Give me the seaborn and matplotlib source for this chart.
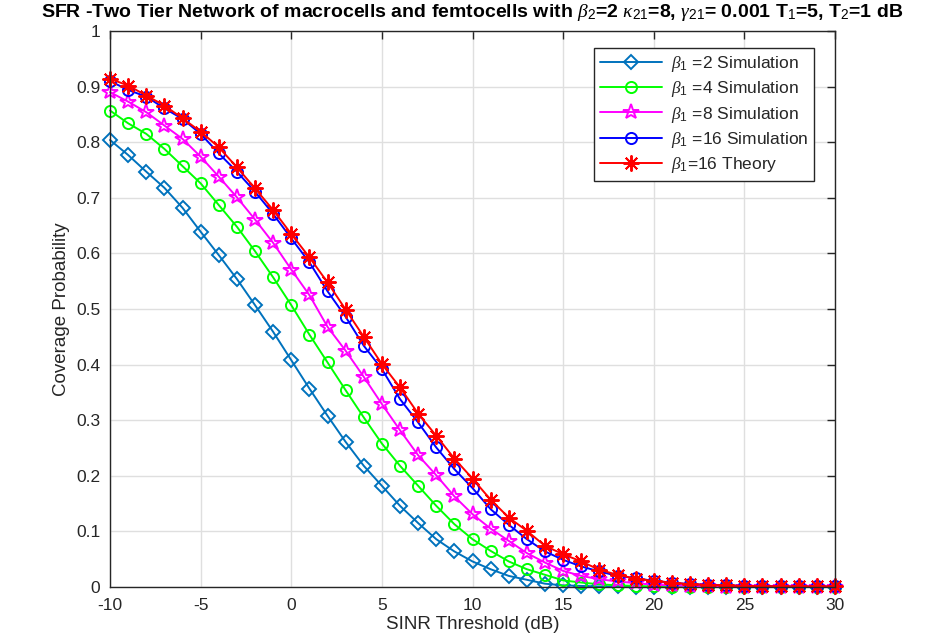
import numpy as np
import pandas as pd
import seaborn as sns
import matplotlib
matplotlib.use("Agg")
import matplotlib.pyplot as plt

# ---------------- data ----------------
sinr_db = list(range(-10, 31))

beta1_2_sim = [0.804, 0.777, 0.747, 0.718, 0.682, 0.639, 0.597, 0.554, 0.507, 0.459,
               0.408, 0.357, 0.308, 0.261, 0.218, 0.182, 0.146, 0.115, 0.086, 0.064,
               0.046, 0.032, 0.020, 0.013, 0.006, 0.003, 0.002, 0.001, 0.001, 0.0,
               0.0, 0.0, 0.0, 0.0, 0.0, 0.0, 0.0, 0.0, 0.0, 0.0, 0.0]
beta1_4_sim = [0.857, 0.834, 0.815, 0.788, 0.757, 0.726, 0.687, 0.648, 0.604, 0.557,
               0.507, 0.454, 0.404, 0.354, 0.305, 0.258, 0.218, 0.182, 0.146, 0.113,
               0.086, 0.065, 0.046, 0.032, 0.022, 0.012, 0.008, 0.005, 0.003, 0.002,
               0.001, 0.0, 0.0, 0.0, 0.0, 0.0, 0.0, 0.0, 0.0, 0.0, 0.0]
beta1_8_sim = [0.890, 0.873, 0.854, 0.830, 0.806, 0.774, 0.738, 0.701, 0.661, 0.619,
               0.571, 0.525, 0.468, 0.425, 0.378, 0.329, 0.282, 0.237, 0.201, 0.163,
               0.131, 0.105, 0.083, 0.061, 0.044, 0.029, 0.020, 0.014, 0.010, 0.007,
               0.004, 0.003, 0.002, 0.001, 0.0, 0.0, 0.0, 0.0, 0.0, 0.0, 0.0]
beta1_16_sim = [0.910, 0.894, 0.882, 0.861, 0.842, 0.815, 0.780, 0.747, 0.711, 0.671,
                0.627, 0.584, 0.532, 0.486, 0.434, 0.392, 0.338, 0.296, 0.251, 0.212,
                0.178, 0.140, 0.112, 0.086, 0.064, 0.049, 0.037, 0.028, 0.020, 0.016,
                0.011, 0.008, 0.005, 0.004, 0.003, 0.002, 0.002, 0.001, 0.001, 0.001, 0.001]
beta1_16_theory = [0.914, 0.902, 0.884, 0.866, 0.843, 0.819, 0.791, 0.755, 0.717, 0.678,
                   0.635, 0.593, 0.548, 0.499, 0.450, 0.401, 0.359, 0.312, 0.272, 0.231,
                   0.195, 0.157, 0.125, 0.101, 0.074, 0.059, 0.046, 0.031, 0.022, 0.015,
                   0.011, 0.008, 0.005, 0.004, 0.003, 0.002, 0.002, 0.001, 0.001, 0.001, 0.001]

labels = [r"$\beta_1$ =2 Simulation", r"$\beta_1$ =4 Simulation", r"$\beta_1$ =8 Simulation",
          r"$\beta_1$ =16 Simulation", r"$\beta_1$=16 Theory"]
x_ticks = [-10, -5, 0, 5, 10, 15, 20, 25, 30]
y_ticks = [0, 0.1, 0.2, 0.3, 0.4, 0.5, 0.6, 0.7, 0.8, 0.9, 1]
y_ticklabels = ["0", "0.1", "0.2", "0.3", "0.4", "0.5", "0.6", "0.7", "0.8", "0.9", "1"]

# ---------------- style ----------------
sns.set_theme(style="white")
plt.rcParams["font.family"] = ["Liberation Sans", "DejaVu Sans"]
plt.rcParams["mathtext.fontset"] = "custom"
plt.rcParams["mathtext.rm"] = "Liberation Sans"
plt.rcParams["mathtext.it"] = "Liberation Serif:italic"
plt.rcParams["mathtext.bf"] = "Liberation Sans:bold"

fig = plt.figure(figsize=(9.34, 6.41), dpi=100)
ax = fig.add_axes([0.1178, 0.0842, 0.7762, 0.8674])

series = [beta1_2_sim, beta1_4_sim, beta1_8_sim, beta1_16_sim, beta1_16_theory]
styles = [
    dict(color="#0072BD", marker="D", markersize=7),
    dict(color="#00FF00", marker="o", markersize=8),
    dict(color="#FF00FF", marker="*", markersize=11.5),
    dict(color="#0000FF", marker="o", markersize=8),
    dict(color="#FF0000", marker=(8, 2, 0), markersize=11.5),
]
for vals, lab, st in zip(series, labels, styles):
    df = pd.DataFrame({"x": sinr_db, "y": vals})
    sns.lineplot(data=df, x="x", y="y", ax=ax, label=lab, color=st["color"],
                 marker=st["marker"], markersize=st["markersize"],
                 markerfacecolor="none", markeredgecolor=st["color"],
                 markeredgewidth=1.4, linewidth=1.4, clip_on=False)

ax.set_xlim(-10, 30)
ax.set_ylim(0, 1)
ax.set_xticks(x_ticks)
ax.set_xticklabels([str(t) for t in x_ticks])
ax.set_yticks(y_ticks)
ax.set_yticklabels(y_ticklabels)
ax.grid(True, color="#DFDFDF", linewidth=1.0)
ax.set_axisbelow(True)
for s in ax.spines.values():
    s.set_color("#262626")
    s.set_linewidth(1.0)
ax.tick_params(axis="both", which="both", direction="in", length=6, width=1.0,
               top=True, right=True, labelsize=12.5, colors="#262626")
ax.tick_params(axis="x", pad=8)
ax.tick_params(axis="y", pad=7)

ax.set_xlabel("SINR Threshold (dB)", fontsize=13.5, color="#262626", labelpad=2)
ax.set_ylabel("Coverage Probability", fontsize=13.5, color="#262626", labelpad=4)
ax.set_title(r"SFR -Two Tier Network of macrocells and femtocells with $\beta_2$=2 $\kappa_{21}$=8, "
             r"$\gamma_{21}$= 0.001 T$_1$=5, T$_2$=1 dB",
             fontsize=14, fontweight="bold", color="black", pad=10)

leg = ax.legend(loc="upper right", bbox_to_anchor=(0.9835, 0.985), fontsize=12.5,
                frameon=True, fancybox=False, edgecolor="#262626", framealpha=1,
                handlelength=3.6, borderpad=0.35, labelspacing=0.3, handletextpad=0.5)
leg.get_frame().set_linewidth(1.0)

fig.savefig("out.png", dpi=100)
